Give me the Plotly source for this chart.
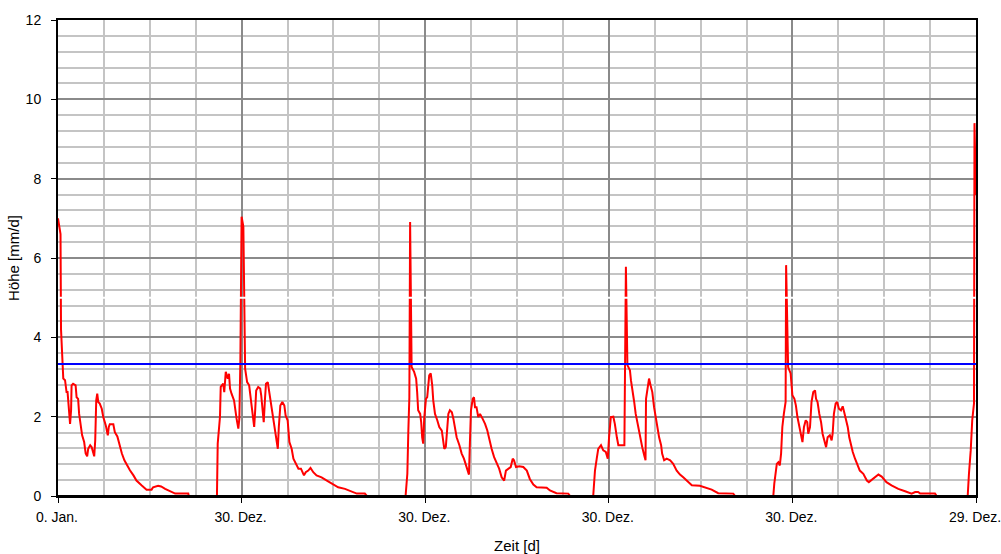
import plotly.graph_objects as go

# ---- data (day, value), one list per season ----
season_0 = [(0, 7.0), (2, 6.8), (5, 6.6), (6, 4.2), (10.5, 2.96), (14, 2.92), (17, 2.62), (19, 2.62),
            (20.5, 2.28), (24, 1.82), (26, 2.16), (27, 2.79), (30, 2.83), (35, 2.79), (37, 2.49),
            (40, 2.45), (42, 2.07), (46, 1.74), (48, 1.53), (52, 1.36), (55, 1.07), (58, 1.0),
            (60, 1.19), (64, 1.28), (67, 1.23), (72, 1.0), (74, 1.40), (76, 2.41), (78, 2.58),
            (80, 2.37), (83, 2.33), (87, 2.20), (90, 1.99), (95, 1.78), (99, 1.53), (101, 1.74),
            (103, 1.81), (110, 1.81), (113, 1.61), (118, 1.50), (122, 1.28), (127, 1.07), (132, 0.90),
            (137, 0.77), (143, 0.65), (150, 0.52), (156, 0.39), (166, 0.27), (176, 0.16), (186, 0.16),
            (189, 0.22), (199, 0.26), (205, 0.24), (213, 0.18), (223, 0.12), (233, 0.06), (259, 0.06),
            (260, 0)]
season_1 = [(316, 0), (317.5, 1.32), (322, 1.99), (323.5, 2.75), (328.5, 2.83), (330.5, 2.62),
            (333.5, 3.13), (337.5, 2.96), (340, 3.08), (342, 2.71), (345, 2.58), (350, 2.41),
            (355, 1.95), (358.5, 1.70), (360.5, 1.95), (362.5, 3.35), (365, 7.04), (368.5, 6.79),
            (372, 3.21), (376, 2.87), (380, 2.79), (383, 2.45), (385, 2.37), (390, 1.74), (392, 2.16),
            (394, 2.66), (398, 2.75), (402, 2.71), (404, 2.54), (406, 2.20), (409, 1.86), (411.5, 2.45),
            (413.5, 2.83), (417, 2.87), (420, 2.62), (423, 2.37), (426, 2.03), (430, 1.74), (433.5, 1.48),
            (437, 1.19), (439, 1.74), (442, 2.28), (446, 2.37), (450, 2.28), (452.5, 2.03), (456.5, 1.91),
            (460, 1.36), (464.5, 1.19), (468, 0.94), (472.5, 0.81), (478, 0.69), (483, 0.69), (489, 0.52),
            (492.5, 0.60), (497.5, 0.64), (502, 0.71), (507.5, 0.60), (514, 0.52), (524, 0.47),
            (537, 0.37), (547, 0.29), (557, 0.22), (570.5, 0.18), (584, 0.10), (594, 0.06), (610, 0.06),
            (614, 0)]
season_2 = [(691, 0), (694.5, 0.56), (696.5, 1.65), (698.5, 2.49), (700, 6.91), (702, 3.3), (703, 3.25),
            (708, 3.13), (712, 2.96), (714, 2.62), (716, 2.16), (720, 2.07), (722, 1.86), (724, 1.48),
            (726, 1.32), (728, 1.95), (731.5, 2.45), (734, 2.49), (738, 3.04), (741, 3.09), (744, 2.79),
            (746, 2.41), (749.5, 2.07), (754, 1.91), (758, 1.74), (763, 1.65), (766, 1.40), (768, 1.19),
            (771, 1.24), (773, 1.70), (776, 2.07), (779, 2.16), (783, 2.11), (786, 1.95), (789, 1.70),
            (792.5, 1.48), (798, 1.28), (802.5, 1.07), (807, 0.94), (812.5, 0.73), (817, 0.54),
            (819, 1.40), (821, 2.16), (824.5, 2.45), (827, 2.49), (829, 2.24), (832, 2.24), (835.5, 1.99),
            (839, 2.07), (844, 1.95), (849, 1.82), (853.5, 1.65), (857.5, 1.40), (862, 1.19), (867, 0.98),
            (872, 0.85), (877, 0.69), (882, 0.47), (887, 0.39), (890.5, 0.64), (895, 0.69), (900, 0.73),
            (904, 0.94), (906.5, 0.90), (910.5, 0.73), (917, 0.75), (925, 0.73), (932, 0.64), (938, 0.43),
            (945, 0.29), (951.5, 0.22), (971.5, 0.21), (978, 0.14), (991, 0.07), (1014.5, 0.06),
            (1018, 0)]
season_3 = [(1064, 0), (1067.5, 0.64), (1071, 0.94), (1074, 1.19), (1079.5, 1.28), (1084, 1.15),
            (1089, 1.11), (1093, 0.94), (1095.5, 1.48), (1099, 1.99), (1104, 2.0), (1107, 1.82),
            (1111, 1.48), (1114, 1.28), (1126, 1.28), (1127, 2.49), (1129, 5.78), (1132, 3.3),
            (1134, 3.25), (1137, 3.17), (1139, 2.92), (1142.5, 2.54), (1145.5, 2.37), (1148.5, 2.07),
            (1151.5, 1.86), (1155, 1.65), (1158, 1.40), (1161.5, 1.23), (1165.5, 1.02), (1168, 0.90),
            (1169, 2.45), (1172, 2.71), (1175, 2.96), (1178, 2.79), (1181.5, 2.62), (1185, 2.24),
            (1188, 1.99), (1191.5, 1.65), (1195, 1.48), (1199, 1.28), (1201, 1.07), (1205, 0.90),
            (1210, 0.94), (1217, 0.90), (1223, 0.81), (1230, 0.64), (1236.5, 0.54), (1243, 0.47),
            (1253, 0.35), (1260, 0.27), (1276, 0.26), (1286, 0.22), (1299.5, 0.16), (1312.5, 0.07),
            (1342.5, 0.06), (1346, 0)]
season_4 = [(1422, 0), (1424, 0.31), (1429, 0.81), (1432, 0.85), (1435, 0.77), (1437.5, 1.07),
            (1440, 1.74), (1443, 2.07), (1446.5, 2.37), (1447.5, 5.82), (1449.5, 4.85), (1451.5, 3.25),
            (1456.5, 3.09), (1460, 2.54), (1464, 2.45), (1467, 2.28), (1470, 1.99), (1473, 1.78),
            (1476.5, 1.53), (1480, 1.36), (1483, 1.74), (1486.5, 1.91), (1489.5, 1.86), (1491.5, 1.57),
            (1495, 1.74), (1498, 2.37), (1501.5, 2.62), (1505, 2.66), (1507, 2.45), (1510, 2.37),
            (1513.5, 2.07), (1517, 1.86), (1520, 1.57), (1523, 1.40), (1527, 1.23), (1530, 1.48),
            (1534.5, 1.53), (1538, 1.40), (1540, 1.57), (1542.5, 2.07), (1546, 2.33), (1549, 2.37),
            (1552.5, 2.20), (1556.5, 2.16), (1560, 2.26), (1563, 2.11), (1566.5, 1.95), (1570, 1.74),
            (1573, 1.48), (1576.5, 1.28), (1580, 1.11), (1584.5, 0.94), (1590, 0.77), (1594, 0.64),
            (1601, 0.56), (1608, 0.39), (1612, 0.35), (1621, 0.43), (1631, 0.54), (1637.5, 0.49),
            (1647, 0.35), (1657, 0.27), (1670.5, 0.18), (1684, 0.12), (1697, 0.06), (1704, 0.10),
            (1710, 0.10), (1714, 0.06), (1743.5, 0.06), (1747, 0)]
season_5 = [(1808.5, 0), (1811, 0.56), (1814.5, 1.15), (1817.5, 1.91), (1821, 2.33), (1822, 9.40),
            (1825, 7.59)]

threshold = 3.33          # blue reference line
white_level = 5.0         # white horizontal line
tick_days = [0, 365, 730, 1095, 1460, 1825]
tick_labels = ["0. Jan.", "30. Dez.", "30. Dez.", "30. Dez.", "30. Dez.", "29. Dez."]

# ---- build series ----
days, vals = [], []
for season in [season_0, season_1, season_2, season_3, season_4, season_5]:
    for d, v in season:
        days.append(d)
        vals.append(v)

FONT = "Liberation Sans, Arial, sans-serif"
MAJOR = "#8a8a8a"
MINOR = "#c4c4c4"

fig = go.Figure()
fig.add_trace(go.Scatter(x=days, y=vals, mode="lines",
                         line=dict(color="#ff0000", width=2), showlegend=False, hoverinfo="skip"))
fig.add_trace(go.Scatter(x=[0, 1825], y=[threshold, threshold], mode="lines",
                         line=dict(color="#0000ff", width=2), showlegend=False, hoverinfo="skip"))
fig.add_trace(go.Scatter(x=[0, 1825], y=[white_level, white_level], mode="lines",
                         line=dict(color="#ffffff", width=2), showlegend=False, hoverinfo="skip"))

fig.update_layout(
    width=1001, height=554,
    margin=dict(l=58, r=25, t=20, b=58),
    paper_bgcolor="white", plot_bgcolor="white",
    font=dict(family=FONT, size=14, color="#000000"),
    showlegend=False,
    shapes=[dict(type="line", xref="paper", yref="paper", x0=0, x1=1, y0=0, y1=0,
                 line=dict(color="#000000", width=2), layer="above")],
)
fig.update_xaxes(
    range=[0, 1825], tickmode="array", tickvals=tick_days, ticktext=tick_labels,
    ticks="outside", ticklen=5, tickwidth=1, tickcolor="#000000",
    showline=True, linecolor="#000000", linewidth=2, mirror=True,
    showgrid=True, gridcolor=MAJOR, gridwidth=2, zeroline=False,
    minor=dict(tickmode="linear", tick0=0, dtick=91.25, showgrid=True,
               gridcolor=MINOR, gridwidth=2, ticks=""),
    tickfont=dict(size=14), ticklabelstandoff=2, ticklabelshift=-1,
    ticklabeloverflow="allow",
    title=dict(text="Zeit [d]", font=dict(size=15), standoff=17),
    automargin=False,
)
fig.update_yaxes(
    range=[0, 12], tickmode="linear", tick0=0, dtick=2,
    ticks="outside", ticklen=5, tickwidth=1, tickcolor="#000000",
    showline=True, linecolor="#000000", linewidth=2, mirror=True,
    showgrid=True, gridcolor=MAJOR, gridwidth=2, zeroline=False,
    minor=dict(tickmode="linear", tick0=0, dtick=0.4, showgrid=True,
               gridcolor=MINOR, gridwidth=2, ticks=""),
    tickfont=dict(size=14), ticklabelstandoff=7,
    title=dict(text="Höhe [mm/d]", font=dict(size=15), standoff=2),
    automargin=False,
)

# remove the browser's default 8px body margin so the figure fills the window exactly
fig.write_html("out.html",
               config={"displayModeBar": False},
               post_script="document.body.style.margin='0px';document.body.style.overflow='hidden';")
